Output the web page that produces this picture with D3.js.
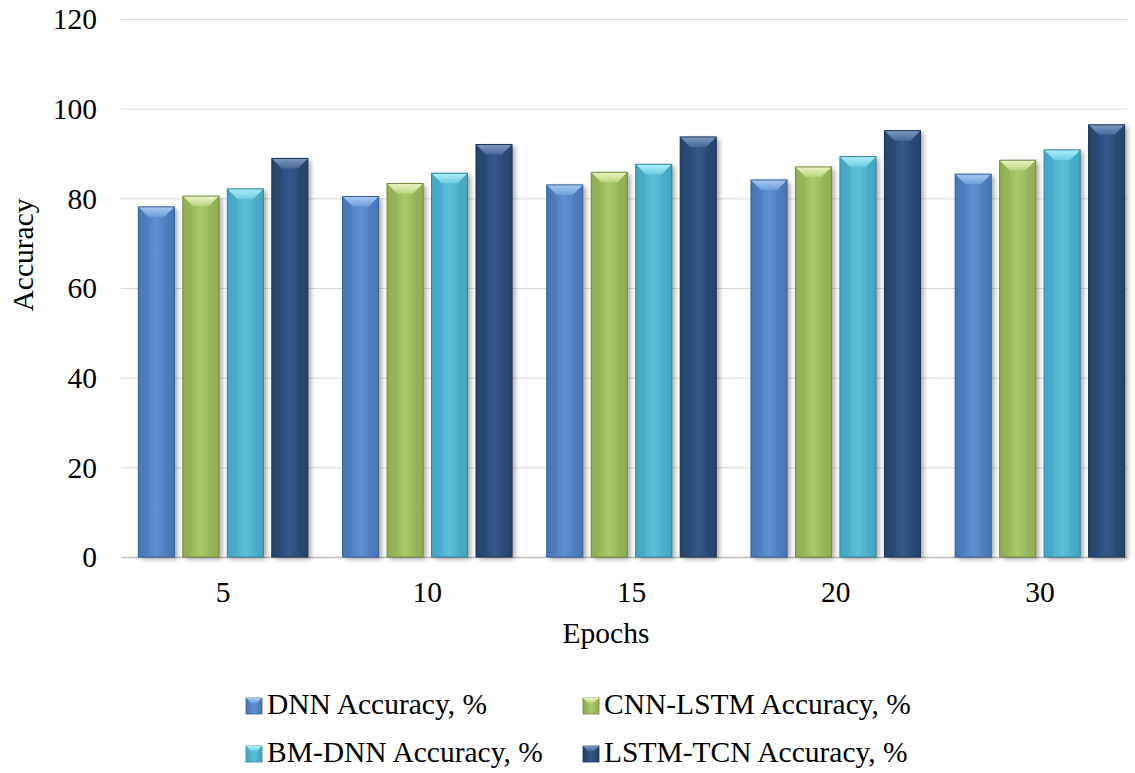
<!DOCTYPE html>
<html><head><meta charset="utf-8">
<script src="https://cdn.jsdelivr.net/npm/d3@7"></script>
<style>body{margin:0;background:#fff}svg{display:block}text{font-family:"Liberation Serif","Times New Roman",serif;fill:#000}</style>
</head><body><svg id="c" width="1135" height="773"></svg>
<script>
const categories = ["5","10","15","20","30"];
const seriesNames = ["DNN Accuracy, %","CNN-LSTM Accuracy, %","BM-DNN Accuracy, %","LSTM-TCN Accuracy, %"];
const dnn     = [78.1, 80.4, 83.0, 84.1, 85.4];
const cnnLstm = [80.5, 83.3, 85.8, 87.0, 88.5];
const bmDnn   = [82.1, 85.6, 87.6, 89.3, 90.8];
const lstmTcn = [88.9, 92.0, 93.7, 95.1, 96.4];
const yTicks  = [0,20,40,60,80,100,120];
const seriesValues = [dnn, cnnLstm, bmDnn, lstmTcn];
const palette = [
  {edge:"#4573B3", mid:"#5E91D4", top:"#A8CBF2", top2:"#6F9EDB", side:"#4A79BA", stroke:"#365F97"},
  {edge:"#8CAA4E", mid:"#A9C96A", top:"#EEF6C8", top2:"#B8D47E", side:"#93B256", stroke:"#738C3C"},
  {edge:"#3FA3BE", mid:"#5CC0DA", top:"#B0F0FA", top2:"#6CCDE4", side:"#45AAC5", stroke:"#2F859E"},
  {edge:"#223F68", mid:"#35588A", top:"#7D9AC0", top2:"#47699A", side:"#27486F", stroke:"#1A3355"}
];

const FS = 29.5;
const svg = d3.select("#c");
const pLeft = 121, pRight = 1142, pTop = 19, pBottom = 557, gridRight = 1127;
const x0 = d3.scaleBand().domain(categories).range([pLeft, pRight]).paddingInner(0.17).paddingOuter(0.085);
const x1 = d3.scaleBand().domain(d3.range(4)).range([0, x0.bandwidth()]).paddingInner(0.19);
const y = d3.scaleLinear().domain([0,120]).range([pBottom, pTop]);

const defs = svg.append("defs");
palette.forEach((p,i)=>{
  const g = defs.append("linearGradient").attr("id","g"+i).attr("x1","0").attr("x2","1").attr("y1","0").attr("y2","0");
  g.append("stop").attr("offset","0").attr("stop-color",p.edge);
  g.append("stop").attr("offset","0.5").attr("stop-color",p.mid);
  g.append("stop").attr("offset","1").attr("stop-color",p.edge);
  const t = defs.append("linearGradient").attr("id","t"+i).attr("x1","0").attr("x2","0").attr("y1","0").attr("y2","1");
  t.append("stop").attr("offset","0").attr("stop-color",p.top);
  t.append("stop").attr("offset","1").attr("stop-color",p.top2);
});
const f = defs.append("filter").attr("id","sh").attr("x","-20%").attr("y","-5%").attr("width","150%").attr("height","115%");
f.append("feGaussianBlur").attr("stdDeviation","2.5");

svg.append("g").selectAll("line").data(yTicks).join("line")
  .attr("x1",pLeft).attr("x2",gridRight).attr("y1",d=>y(d)+0.5).attr("y2",d=>y(d)+0.5)
  .attr("stroke",d=>d===0?"#BFBFBF":"#D9D9D9").attr("stroke-width",d=>d===0?1.5:1);

svg.append("g").selectAll("text").data(yTicks).join("text")
  .attr("x",97).attr("y",d=>y(d)).attr("dy","0.35em").attr("text-anchor","end")
  .attr("font-size",FS).text(d=>d);

const groups = svg.append("g").selectAll("g").data(categories).join("g")
  .attr("transform",c=>`translate(${x0(c)},0)`);
groups.each(function(c,ci){
  const g = d3.select(this);
  seriesValues.forEach((vals,si)=>{
    const p = palette[si];
    const bx = x1(si), bw = x1.bandwidth(), by = y(vals[ci]), bh = y(0)-y(vals[ci]);
    const b = 10;
    g.append("rect").attr("x",bx+3).attr("y",by+2).attr("width",bw).attr("height",bh)
      .attr("fill","#000").attr("opacity",0.35).attr("filter","url(#sh)");
    g.append("rect").attr("x",bx).attr("y",by).attr("width",bw).attr("height",bh).attr("fill",`url(#g${si})`);
    g.append("path").attr("d",`M${bx},${by}L${bx+b},${by+b}L${bx+b},${by+bh-4}L${bx},${by+bh}Z`).attr("fill",p.side).attr("opacity",0.5);
    g.append("path").attr("d",`M${bx+bw},${by}L${bx+bw-b},${by+b}L${bx+bw-b},${by+bh-4}L${bx+bw},${by+bh}Z`).attr("fill",p.side).attr("opacity",0.5);
    g.append("path").attr("d",`M${bx},${by}L${bx+bw},${by}L${bx+bw-b},${by+b}L${bx+b},${by+b}Z`).attr("fill",`url(#t${si})`);
    g.append("rect").attr("x",bx).attr("y",by).attr("width",bw).attr("height",bh)
      .attr("fill","none").attr("stroke",p.stroke).attr("stroke-width",1);
  });
});

svg.append("g").selectAll("text").data(categories).join("text")
  .attr("x",c=>x0(c)+x0.bandwidth()/2).attr("y",602).attr("text-anchor","middle")
  .attr("font-size",FS).text(c=>c);

svg.append("text").attr("x",606).attr("y",643).attr("text-anchor","middle").attr("font-size",FS).text("Epochs");
svg.append("text").attr("transform","translate(33,255) rotate(-90)").attr("text-anchor","middle").attr("font-size",FS).text("Accuracy");

const legPos = [[246,698],[583,698],[246,746],[583,746]];
seriesNames.forEach((n,i)=>{
  const [lx,ly] = legPos[i];
  const p = palette[i], s = 16, b = 5;
  const lg = svg.append("g");
  lg.append("rect").attr("x",lx).attr("y",ly).attr("width",s).attr("height",s).attr("fill",`url(#g${i})`).attr("stroke",p.stroke).attr("stroke-width",0.8);
  lg.append("path").attr("d",`M${lx},${ly}L${lx+s},${ly}L${lx+s-b},${ly+b}L${lx+b},${ly+b}Z`).attr("fill",`url(#t${i})`);
  lg.append("text").attr("x",lx+21).attr("y",ly+16).attr("font-size",FS).text(n);
});
</script></body></html>
